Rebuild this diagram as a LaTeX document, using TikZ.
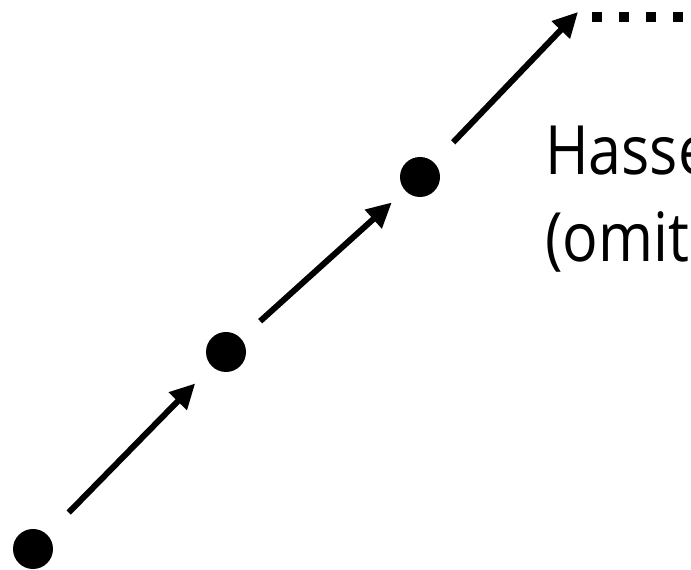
\documentclass[tikz,border=0pt]{standalone}
\usepackage{fontspec}
\setmainfont{Open Sans}
\newfontfamily\handfont[FakeStretch=0.87]{Open Sans}
\usetikzlibrary{arrows.meta,positioning}

\tikzset{
  elem/.style={circle, fill=black, minimum size=40pt, inner sep=0pt, outer sep=0pt},
  hop/.style={line width=6pt, -{Triangle[length=25pt,width=24pt]}},
  word/.style={anchor=base west, inner sep=0pt, font=\handfont\fontsize{68}{80}\selectfont}
}

\begin{document}
\begin{tikzpicture}[x=1pt, y=1pt]
	\useasboundingbox (0, 0) rectangle (691, 570);

	\node[elem] (e1) at (33, 21) {};
	\node[elem] (e2) at (226, 218) {};
	\node[elem] (e3) at (420, 393) {};
	\coordinate (top) at (578, 558);
	\coordinate (more) at (592, 553);
	\coordinate (edge) at (700, 553);

	\draw[hop, shorten <=31pt, shorten >=24pt] (e1) -- (e2);
	\draw[hop, shorten <=26pt, shorten >=18pt] (e2) -- (e3);
	\draw[hop, shorten <=28pt] (e3) -- (top);

	%\draw[dotted] (top) -- (edge);
	\draw[line width=10pt, dash pattern=on 10pt off 17pt] (more) -- (edge);

	\node[word] (hasse) at (545, 395) {Hasse};
	\node[word] (omit) at (545, 308) {(omit};
\end{tikzpicture}
\end{document}
